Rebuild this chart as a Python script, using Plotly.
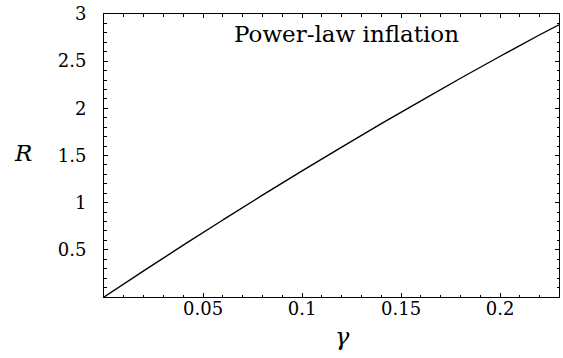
import plotly.graph_objects as go

# R as a function of gamma for power-law inflation
gamma = [0.0, 0.02, 0.04, 0.06, 0.08, 0.10, 0.12, 0.14, 0.16, 0.18, 0.20, 0.22, 0.2297]
R = [0.0, 0.277, 0.549, 0.816, 1.079, 1.337, 1.589, 1.837, 2.080, 2.319, 2.552, 2.780, 2.886]

x_ticks = [0.05, 0.1, 0.15, 0.2]
x_labels = ["0.05", "0.1", "0.15", "0.2"]
y_ticks = [0.5, 1, 1.5, 2, 2.5, 3]
y_labels = ["0.5", "1", "1.5", "2", "2.5", "3"]

SERIF = "DejaVu Serif"

fig = go.Figure()
fig.add_trace(go.Scatter(x=gamma, y=R, mode="lines",
                         line=dict(color="black", width=1.4, shape="spline", smoothing=1.0),
                         showlegend=False, hoverinfo="skip"))

axis_common = dict(
    showgrid=False, zeroline=False,
    showline=True, linecolor="black", linewidth=1,
    mirror="allticks", ticks="inside", ticklen=4, tickwidth=1, tickcolor="black",
    tickfont=dict(family=SERIF, size=18, color="black"),
)

fig.update_xaxes(range=[0, 0.2297], tickvals=x_ticks, ticktext=x_labels,
                 minor=dict(dtick=0.01, tick0=0, ticks="inside", ticklen=2.5,
                            tickwidth=1, tickcolor="black", showgrid=False),
                 ticklabelstandoff=-5, **axis_common)
fig.update_yaxes(range=[0, 3], tickvals=y_ticks, ticktext=y_labels,
                 minor=dict(dtick=0.1, tick0=0, ticks="inside", ticklen=2.5,
                            tickwidth=1, tickcolor="black", showgrid=False),
                 ticklabelstandoff=13, **axis_common)

fig.add_annotation(text="Power-law inflation", xref="paper", yref="paper",
                   x=0.532, y=0.93, xanchor="center", yanchor="middle",
                   showarrow=False, font=dict(family=SERIF, size=23, color="black"))
fig.add_annotation(text="<i>R</i>", xref="paper", yref="paper",
                   x=-0.178, y=0.51, xanchor="center", yanchor="middle",
                   showarrow=False, font=dict(family=SERIF, size=23, color="black"))
fig.add_annotation(text="<i>γ</i>", xref="paper", yref="paper",
                   x=0.525, y=-0.14, xanchor="center", yanchor="middle",
                   showarrow=False, font=dict(family=SERIF, size=24, color="black"))

fig.update_layout(width=563, height=358,
                  margin=dict(l=103.5, r=3.5, t=14, b=61.3),
                  paper_bgcolor="white", plot_bgcolor="white")

fig.write_html("out.html")
